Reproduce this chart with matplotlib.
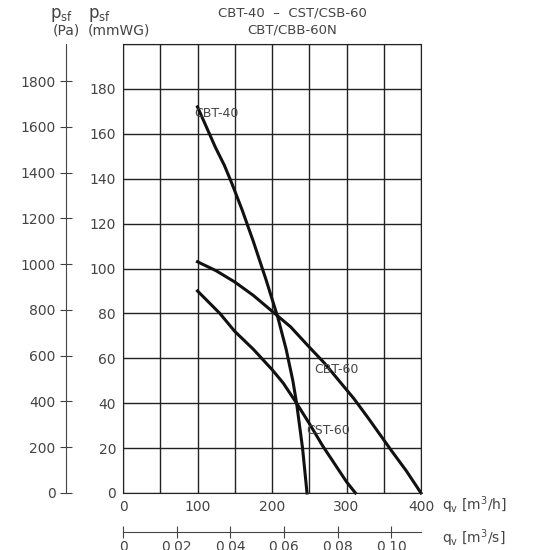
import matplotlib.pyplot as plt

# curves: flow q [m3/h] vs pressure [mmWG]
cbt40_q = [100, 112, 124, 136, 146, 160, 175, 192, 208, 219, 228, 233, 237, 241, 244, 247]
cbt40_p = [172, 163, 154, 146, 138, 126, 112, 95, 78, 64, 50, 40, 30, 20, 10, 0]
cbt60_q = [100, 125, 150, 175, 200, 225, 250, 270, 290, 310, 330, 345, 360, 380, 400]
cbt60_p = [103, 99, 94, 88, 81, 74, 65, 58, 50, 42, 33, 26, 19, 10, 0]
cst60_q = [100, 115, 130, 150, 175, 200, 215, 233, 250, 268, 280, 290, 300, 312]
cst60_p = [90, 85, 80, 72, 64, 55, 49, 40, 31, 21, 15, 10, 5, 0]
labels = [("CBT-40", 126, 169), ("CBT-60", 287, 55), ("CST-60", 276, 28)]

grey = '#444444'
fig = plt.figure(figsize=(5.5, 5.5), dpi=100)
ax = fig.add_axes([123/550, 1-493/550, 298/550, 449/550])
ax.set_xlim(0, 400)
ax.set_ylim(0, 200)
ax.set_xticks(range(0, 401, 50))
ax.set_xticklabels(['0', '', '100', '', '200', '', '300', '', '400'])
ax.set_yticks(range(0, 201, 20))
ax.set_yticklabels([str(v) if v <= 180 else '' for v in range(0, 201, 20)])
ax.grid(True, color='#222222', lw=1.0)
ax.tick_params(length=0, labelsize=10, colors=grey, pad=5)
for s in ax.spines.values():
    s.set_color('#222222')

for q, p in [(cbt40_q, cbt40_p), (cbt60_q, cbt60_p), (cst60_q, cst60_p)]:
    ax.plot(q, p, color='#111111', lw=2.2, clip_on=False, solid_joinstyle='round')
for t, x, y in labels:
    ax.text(x, y, t, fontsize=9, color=grey, ha='center', va='center')

# Pa axis
ax2 = ax.twinx()
ax2.set_ylim(0, 200 * 9.81)
ax2.yaxis.set_ticks_position('left')
ax2.spines['left'].set_position(('outward', 41))
ax2.spines['left'].set_color(grey)
for s in ['right', 'top', 'bottom']:
    ax2.spines[s].set_visible(False)
ax2.set_yticks(range(0, 1801, 200))
ax2.tick_params(axis='y', direction='inout', length=8, labelsize=10, colors=grey,
                labelleft=True, labelright=False, left=True, right=False)

# m3/s axis
ax3 = ax.twiny()
ax3.set_xlim(0, 400 / 3600)
ax3.xaxis.set_ticks_position('bottom')
ax3.spines['bottom'].set_position(('outward', 28))
ax3.spines['bottom'].set_color(grey)
for s in ['left', 'right', 'top']:
    ax3.spines[s].set_visible(False)
ticks = [0, 0.02, 0.04, 0.06, 0.08, 0.10]
ax3.set_xticks(ticks)
ax3.set_xticklabels(['0', '0,02', '0,04', '0,06', '0,08', '0,10'])
ax3.tick_params(axis='x', direction='inout', length=8, labelsize=10, colors=grey,
                labelbottom=True, labeltop=False, bottom=True, top=False, pad=2)

fig.text(50/550, 1-15/550, r'p$_{\mathrm{sf}}$', fontsize=12, color=grey, va='center')
fig.text(53/550, 1-31/550, '(Pa)', fontsize=10, color=grey, va='center')
fig.text(88/550, 1-15/550, r'p$_{\mathrm{sf}}$', fontsize=12, color=grey, va='center')
fig.text(88/550, 1-31/550, '(mmWG)', fontsize=10, color=grey, va='center')
fig.text(292/550, 1-13/550, 'CBT-40  –  CST/CSB-60', fontsize=9.5, color=grey, ha='center', va='center')
fig.text(292/550, 1-30/550, 'CBT/CBB-60N', fontsize=9.5, color=grey, ha='center', va='center')
fig.text(442/550, 1-505/550, r'q$_\mathrm{v}$ [m$^3$/h]', fontsize=10, color=grey, va='center')
fig.text(442/550, 1-538/550, r'q$_\mathrm{v}$ [m$^3$/s]', fontsize=10, color=grey, va='center')

fig.savefig('out.png', dpi=100)
